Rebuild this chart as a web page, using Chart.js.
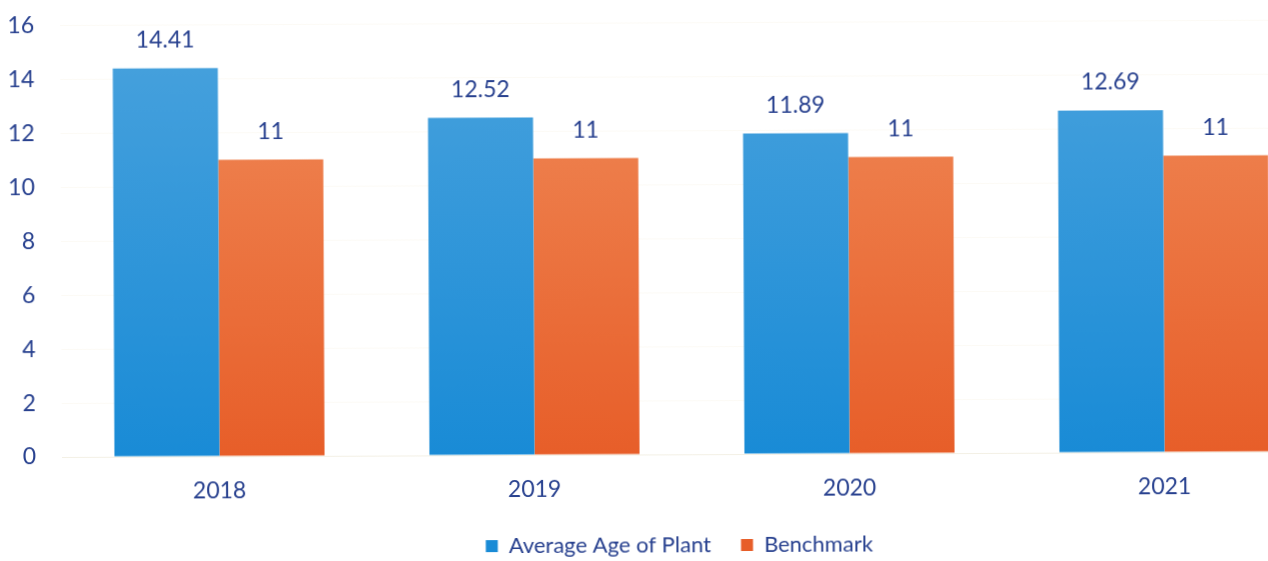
<!DOCTYPE html>
<html>
<head>
<meta charset="utf-8">
<title>Average Age of Plant</title>
<script src="https://cdn.jsdelivr.net/npm/chart.js@4/dist/chart.umd.min.js"></script>
<style>
    html, body { margin: 0; padding: 0; background: #fff; overflow: hidden; }
    #wrap {
        position: absolute; left: 0; top: -14px;
        width: 1358px; height: 583px;
        transform: rotate(-0.25deg);
        transform-origin: 62px 470px;
    }
</style>
</head>
<body>
<div id="wrap"><canvas id="plantChart"></canvas></div>
<script>
// Chart data
const years = ['2018', '2019', '2020', '2021'];
const averageAge = [14.41, 12.52, 11.89, 12.69];
const benchmark = [11, 11, 11, 11];
const yTicks = [0, 2, 4, 6, 8, 10, 12, 14, 16];

const textColor = '#28418f';
const fontFamily = 'Lato, "Open Sans", sans-serif';

// Vertical fill across the plot area, lighter at the top
function verticalGradient(top, bottom) {
    return function (context) {
        const area = context.chart.chartArea;
        if (!area) return bottom;
        const g = context.chart.ctx.createLinearGradient(0, area.top, 0, area.bottom);
        g.addColorStop(0, top);
        g.addColorStop(1, bottom);
        return g;
    };
}

// Writes each bar's value just above it
const valueLabels = {
    id: 'valueLabels',
    afterDatasetsDraw(chart) {
        const ctx = chart.ctx;
        ctx.save();
        ctx.font = '23px ' + fontFamily;
        ctx.fillStyle = textColor;
        ctx.textAlign = 'center';
        ctx.textBaseline = 'middle';
        chart.data.datasets.forEach((ds, i) => {
            chart.getDatasetMeta(i).data.forEach((bar, j) => {
                ctx.fillText(String(ds.data[j]), bar.x, bar.y - 28);
            });
        });
        ctx.restore();
    }
};

document.addEventListener('DOMContentLoaded', () => {
    const ctx = document.getElementById('plantChart').getContext('2d');

    new Chart(ctx, {
        type: 'bar',
        data: {
            labels: years,
            datasets: [{
                label: 'Average Age of Plant',
                data: averageAge,
                backgroundColor: verticalGradient('#49a2dd', '#198bd6'),
                borderWidth: 0
            }, {
                label: 'Benchmark',
                data: benchmark,
                backgroundColor: verticalGradient('#f08b59', '#e75e29'),
                borderWidth: 0
            }]
        },
        options: {
            responsive: true,
            maintainAspectRatio: false,
            animation: false,
            datasets: {
                bar: { categoryPercentage: 0.667, barPercentage: 1.0 }
            },
            layout: {
                padding: 0
            },
            scales: {
                x: {
                    grid: { display: false },
                    border: { display: true, color: 'rgba(230, 225, 205, 0.4)' },
                    ticks: {
                        color: textColor,
                        font: { family: fontFamily, size: 23 },
                        padding: 13
                    },
                    afterFit(scale) { scale.height = 50; }
                },
                y: {
                    min: 0,
                    max: 16,
                    afterBuildTicks(scale) {
                        scale.ticks = yTicks.map(v => ({ value: v }));
                    },
                    afterFit(scale) { scale.width = 62; },
                    grid: { color: 'rgba(240, 232, 205, 0.2)', drawTicks: false },
                    border: { display: false },
                    ticks: {
                        color: textColor,
                        font: { family: fontFamily, size: 23 },
                        padding: 26
                    }
                },
                // empty right-hand axis, keeps the legend centred a little right of the plot
                yPad: {
                    position: 'right',
                    display: true,
                    grid: { display: false },
                    border: { display: false },
                    ticks: { display: false },
                    afterFit(scale) { scale.width = 36; }
                }
            },
            plugins: {
                legend: {
                    position: 'bottom',
                    labels: {
                        color: textColor,
                        font: { family: fontFamily, size: 22 },
                        boxWidth: 12,
                        boxHeight: 12,
                        padding: 30
                    }
                },
                tooltip: { enabled: false }
            }
        },
        plugins: [valueLabels]
    });
});
</script>
</body>
</html>
